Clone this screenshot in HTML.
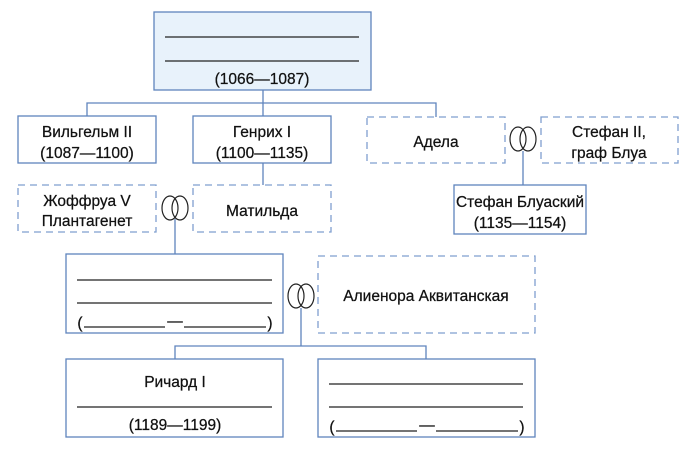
<!DOCTYPE html>
<html><head><meta charset="utf-8"><style>
html,body{margin:0;padding:0;background:#fff;}
svg{display:block;}
text{font-family:"Liberation Sans",sans-serif;font-size:15.5px;fill:#111;text-anchor:middle;stroke:#111;stroke-width:0.25;}
</style></head><body>
<svg width="688" height="450" viewBox="0 0 688 450" xmlns="http://www.w3.org/2000/svg">
<g fill="none" stroke="#5f84bd" stroke-width="1.3">
<line x1="263" y1="90" x2="263" y2="103"/>
<polyline points="87,116 87,103 436,103 436,117"/>
<line x1="263" y1="103" x2="263" y2="116"/>
<line x1="263" y1="163" x2="263" y2="185"/>
<line x1="175" y1="219" x2="175" y2="254"/>
<line x1="523" y1="151" x2="523" y2="185"/>
<line x1="301" y1="308" x2="301" y2="346"/>
<polyline points="175,359 175,346 426,346 426,359"/>
<rect x="154" y="12" width="217" height="78" fill="#e8f2fb"/>
<rect x="18" y="116" width="138" height="47"/>
<rect x="193" y="116" width="138" height="47"/>
<rect x="454" y="185" width="132" height="49"/>
<rect x="66" y="254" width="217" height="79"/>
<rect x="66" y="359" width="217" height="78"/>
<rect x="318" y="359" width="217" height="78"/>
</g>
<g fill="none" stroke="#7f9fcf" stroke-width="1.3" stroke-dasharray="7,5">
<rect x="367" y="117" width="138" height="46"/>
<rect x="541" y="117" width="137" height="46"/>
<rect x="18" y="185" width="138" height="47"/>
<rect x="193" y="185" width="138" height="47"/>
<rect x="318" y="256" width="217" height="77"/>
</g>
<g fill="none" stroke="#222" stroke-width="1.2">
<ellipse cx="518" cy="139" rx="8" ry="12"/><ellipse cx="528" cy="139" rx="8" ry="12"/>
<ellipse cx="170" cy="208" rx="8" ry="12"/><ellipse cx="180" cy="208" rx="8" ry="12"/>
<ellipse cx="296" cy="296" rx="8" ry="12"/><ellipse cx="306" cy="296" rx="8" ry="12"/>
</g>
<g stroke="#222" stroke-width="1.2">
<line x1="165" y1="37" x2="359" y2="37"/><line x1="165" y1="61" x2="359" y2="61"/>
<line x1="77" y1="280" x2="272" y2="280"/><line x1="77" y1="303" x2="272" y2="303"/>
<line x1="84" y1="327" x2="165" y2="327"/><line x1="184" y1="327" x2="266" y2="327"/>
<line x1="77" y1="407" x2="272" y2="407"/>
<line x1="329" y1="384" x2="523" y2="384"/><line x1="329" y1="407" x2="523" y2="407"/>
<line x1="336" y1="431" x2="417" y2="431"/><line x1="436" y1="431" x2="518" y2="431"/>
</g>
<text x="262" y="84">(1066—1087)</text>
<text x="87" y="137">Вильгельм II</text><text x="87" y="158">(1087—1100)</text>
<text x="262" y="137">Генрих I</text><text x="262" y="158">(1100—1135)</text>
<text x="436" y="147">Адела</text>
<text x="609" y="137">Стефан II,</text><text x="609" y="158">граф Блуа</text>
<text x="520" y="207">Стефан Блуаский</text><text x="520" y="228">(1135—1154)</text>
<text x="87" y="206">Жоффруа V</text><text x="87" y="226">Плантагенет</text>
<text x="262" y="216">Матильда</text>
<text x="80" y="328">(</text><text x="175" y="326">—</text><text x="270" y="328">)</text>
<text x="426" y="301">Алиенора Аквитанская</text>
<text x="175" y="387">Ричард I</text>
<text x="175" y="430">(1189—1199)</text>
<text x="332" y="432">(</text><text x="427" y="430">—</text><text x="522" y="432">)</text>
</svg>
</body></html>
